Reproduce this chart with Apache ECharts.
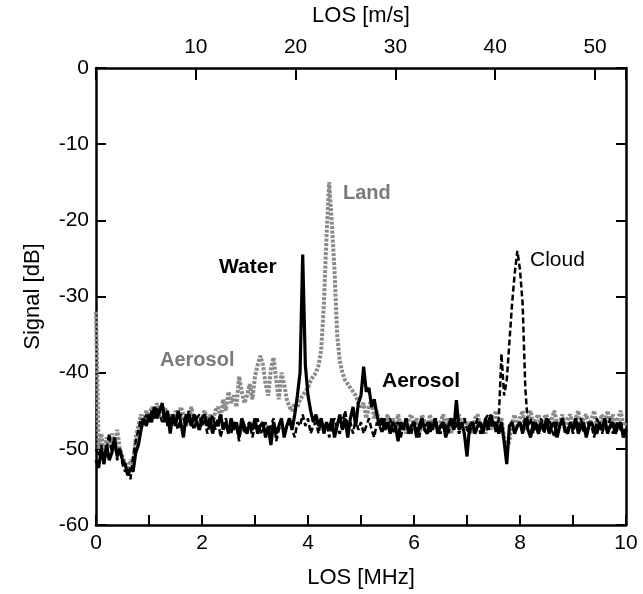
<!DOCTYPE html>
<html>
<head>
<meta charset="utf-8">
<script src="https://cdn.jsdelivr.net/npm/echarts@6/dist/echarts.min.js"></script>
<style>html,body{margin:0;padding:0;background:#fff;}#c{width:643px;height:594px;}</style>
</head>
<body>
<div id="c"></div>
<script>
// Frequency sampling step (MHz); spectra sampled from 0 to 10 MHz
const FREQ_STEP = 0.05;
const X_TICKS_MHZ = [0, 2, 4, 6, 8, 10];
const Y_TICKS_DB = [0, -10, -20, -30, -40, -50, -60];
const MS_TICKS = [10, 20, 30, 40, 50];
const MS_AXIS_MAX = 53.1; // m/s equivalent of 10 MHz

// Land return (gray), 0.05 MHz steps
const land = [
  -32, -50, -48, -51, -48.5, -50, -48, -49.5, -47.5, -50,
  -51, -52, -52.5, -51.5, -52, -48.5, -47, -45.5, -46.5, -45,
  -46, -44.5, -45.5, -44, -46, -45, -44.5, -46, -45.5, -47,
  -45, -46, -44.5, -45.5, -47, -46, -44.5, -46.5, -45.5, -47.5,
  -46, -45, -46.5, -45.5, -47, -45, -44.5, -46, -43.5, -45,
  -42.5, -44, -43, -44.5, -40.5, -42.5, -44, -43, -41.5, -43.5,
  -40.5, -39, -37.8, -39, -41.5, -43, -39.5, -38, -41, -43.5,
  -40, -41.5, -43.5, -44.5, -45, -44, -44.5, -43.5, -43, -42.5,
  -42, -41, -40.5, -40, -39, -37, -31, -22, -15, -20.5,
  -26.5, -35, -38.5, -40, -41, -41.5, -42, -42.5, -43, -44,
  -44.5, -44, -46, -44.5, -43.5, -46, -45, -47, -46, -47.5,
  -45.5, -47, -46, -47.5, -45.5, -47, -46.5, -48, -46, -45.5,
  -47, -46, -48, -45.5, -46.5, -47.5, -45.5, -47, -46, -48,
  -46.5, -45.5, -47, -46, -48, -46.5, -47, -45.5, -47.5, -46,
  -47, -46.5, -48, -46, -45.5, -47, -46.5, -48, -46, -47.5,
  -46, -45, -47, -46, -48.5, -50, -49, -46.5, -45.5, -47,
  -46, -45, -47.5, -46, -45, -47, -46, -45.5, -47.5, -46,
  -45.5, -47, -46, -45, -47, -46.5, -45.5, -47.5, -46, -45.5,
  -47, -46, -45, -47.5, -46, -45.5, -47, -46, -45, -47,
  -46.5, -45.5, -47.5, -45, -46.5, -45.5, -47, -46, -45, -47,
  -46.5
];

// Water return (solid black), 0.05 MHz steps
const water = [
  -51.5, -52.5, -50, -52, -49.5, -51.5, -50.5, -48.5, -51, -50,
  -51.5, -52, -53.5, -52.5, -53, -50.5, -49.5, -47.5, -46, -47,
  -45.5, -46.5, -44.5, -46, -45, -44, -46.5, -45, -48, -45.5,
  -47, -45, -46.5, -48.5, -45.5, -46, -47, -45.5, -46.5, -47.5,
  -46, -45.5, -47, -46, -48, -46.5, -47, -45.5, -47.5, -46.5,
  -48, -46, -47.5, -46.5, -48.5, -46, -47, -48, -46.5, -47.5,
  -46, -48, -47, -46.5, -48.5, -47, -49.5, -46.5, -48, -47,
  -46, -48.5, -47, -46, -47.5, -45.5, -43, -40, -24.5, -39,
  -43, -45, -46.5, -45.5, -47, -46, -48, -46.5, -47.5, -46,
  -48.5, -47, -45.5, -47.5, -46, -48.5, -46, -44.5, -47, -44,
  -43, -39.2, -42.5, -42, -44.5, -43.5, -45.5, -47, -46, -47.5,
  -46.5, -48, -46.5, -47, -49, -46.5, -47.5, -46, -48, -47,
  -46.5, -48.5, -47, -46, -47.5, -48, -46.5, -47.5, -46, -48,
  -47, -46.5, -48.5, -47, -46, -47.5, -43.6, -47.5, -46.5, -48,
  -51, -47, -46.5, -48, -47, -46.5, -48, -46, -47.5, -45.5,
  -47, -46.5, -48, -46.5, -49, -52, -47, -46.5, -48, -47,
  -46.5, -48, -46, -47.5, -48.5, -46.5, -47, -48, -46.5, -47.5,
  -46, -48, -47, -46.5, -48.5, -47, -46, -47.5, -48, -46.5,
  -47.5, -46, -48, -47, -46.5, -48.5, -47, -46.5, -47.5, -48,
  -46.5, -47.5, -46, -48, -47, -46.5, -48, -47, -46.5, -48.5,
  -47.5
];

// Cloud return (dashed black), 0.05 MHz steps
const cloud = [
  -50, -51, -49.5, -52, -50, -48, -50.5, -49, -51.5, -50,
  -52, -53, -52.5, -54, -51, -49, -47.5, -46, -46.5, -45.5,
  -46.5, -45, -46, -44.5, -45.5, -46.5, -45, -47, -46, -45.5,
  -46.5, -47.5, -45.5, -46, -47, -45, -46.5, -47.5, -46, -45.5,
  -47, -46, -48, -46.5, -45.5, -47.5, -46, -48.5, -47, -46,
  -47.5, -48, -46.5, -47, -49, -46.5, -48, -47, -46.5, -48.5,
  -47, -46, -48, -47.5, -46.5, -48, -47, -46, -49, -47.5,
  -46.5, -48, -47, -46, -47.5, -48.5, -46.5, -47, -45.5, -47,
  -46, -48, -47, -46.5, -48, -46, -47.5, -46.5, -48.5, -47,
  -46, -47.5, -48, -46.5, -45, -47, -46.5, -48, -46, -47.5,
  -46.5, -48, -47, -46, -47.5, -48.5, -46.5, -47, -48, -46,
  -47.5, -46, -48, -47, -46.5, -48.5, -47, -46, -47.5, -48,
  -46.5, -47, -48.5, -46, -47.5, -46.5, -48, -47, -46, -47.5,
  -48, -46.5, -47, -48, -46, -47.5, -46.5, -48, -47, -46,
  -47.5, -48, -46.5, -47, -46, -48, -47.5, -46, -45.5, -47,
  -46.5, -48, -46, -37.5, -43, -41, -36, -31, -27, -24,
  -26.5, -31, -42, -47, -46, -48, -46.5, -47.5, -46, -48,
  -47, -46, -47.5, -48.5, -46.5, -47, -46, -48, -47.5, -46.5,
  -48, -46.5, -47, -46, -48, -47.5, -46.5, -47, -48.5, -46,
  -47, -48, -46.5, -47.5, -46, -48, -47, -46.5, -47.5, -48,
  -47
];

const toPairs = arr => arr.map((v, i) => [Math.round(i * FREQ_STEP * 100) / 100, v]);

const FONT = 'Liberation Sans, Arial, Helvetica, sans-serif';
const axisLine = { show: true, onZero: false, lineStyle: { color: '#000', width: 2.5 } };
const labelStyle = { color: '#000', fontSize: 21, fontFamily: FONT };
const nameStyle = { color: '#000', fontSize: 22, fontFamily: FONT };
const inTick = len => ({ show: true, inside: true, length: len, lineStyle: { color: '#000', width: 2 } });

const chart = echarts.init(document.getElementById('c'), null, { renderer: 'canvas' });
chart.setOption({
  animation: false,
  backgroundColor: '#fff',
  grid: { left: 96, right: 17, top: 68, bottom: 67, containLabel: false },
  xAxis: [
    {
      type: 'value', position: 'bottom', min: 0, max: 10, interval: 1,
      name: 'LOS [MHz]', nameLocation: 'middle', nameGap: 42,
      nameTextStyle: nameStyle,
      axisLine: axisLine,
      axisTick: inTick(10),
      axisLabel: Object.assign({ margin: 8, formatter: v => X_TICKS_MHZ.indexOf(v) >= 0 ? String(v) : '' }, labelStyle),
      splitLine: { show: false }
    },
    {
      type: 'value', position: 'top', min: 0, max: MS_AXIS_MAX, interval: 10,
      name: 'LOS [m/s]', nameLocation: 'middle', nameGap: 41,
      nameTextStyle: nameStyle,
      axisLine: axisLine,
      axisTick: inTick(12),
      axisLabel: Object.assign({ margin: 10, formatter: v => MS_TICKS.indexOf(v) >= 0 ? String(v) : '' }, labelStyle),
      splitLine: { show: false }
    }
  ],
  yAxis: [
    {
      type: 'value', position: 'left', min: -60, max: 0, interval: 10,
      name: 'Signal [dB]', nameLocation: 'middle', nameGap: 52, nameRotate: 90,
      nameTextStyle: nameStyle,
      axisLine: axisLine,
      axisTick: inTick(10),
      axisLabel: Object.assign({ margin: 7, formatter: v => Y_TICKS_DB.indexOf(v) >= 0 ? String(v) : '' }, labelStyle),
      splitLine: { show: false }
    },
    {
      type: 'value', position: 'right', min: -60, max: 0, interval: 10,
      axisLine: axisLine,
      axisTick: inTick(10),
      axisLabel: { show: false },
      splitLine: { show: false }
    }
  ],
  series: [
    {
      name: 'Land', type: 'line', xAxisIndex: 0, yAxisIndex: 0, showSymbol: false,
      data: toPairs(land),
      lineStyle: { color: '#8a8a8a', width: 4, type: [3, 1.5] }, z: 2
    },
    {
      name: 'Water', type: 'line', xAxisIndex: 0, yAxisIndex: 0, showSymbol: false,
      data: toPairs(water),
      lineStyle: { color: '#000', width: 3.2 }, z: 3
    },
    {
      name: 'Cloud', type: 'line', xAxisIndex: 0, yAxisIndex: 0, showSymbol: false,
      data: toPairs(cloud),
      lineStyle: { color: '#000', width: 2.5, type: [6, 3] }, z: 4
    }
  ],
  graphic: [
    { type: 'text', left: 219, top: 257, style: { text: 'Water', fill: '#000', font: 'bold 21px ' + FONT } },
    { type: 'text', left: 343, top: 183, style: { text: 'Land', fill: '#7a7a7a', font: 'bold 20px ' + FONT } },
    { type: 'text', left: 530, top: 250, style: { text: 'Cloud', fill: '#000', font: '21px ' + FONT } },
    { type: 'text', left: 382, top: 371, style: { text: 'Aerosol', fill: '#000', font: 'bold 21px ' + FONT } },
    { type: 'text', left: 160, top: 350, style: { text: 'Aerosol', fill: '#7a7a7a', font: 'bold 20px ' + FONT } }
  ]
});
</script>
</body>
</html>
